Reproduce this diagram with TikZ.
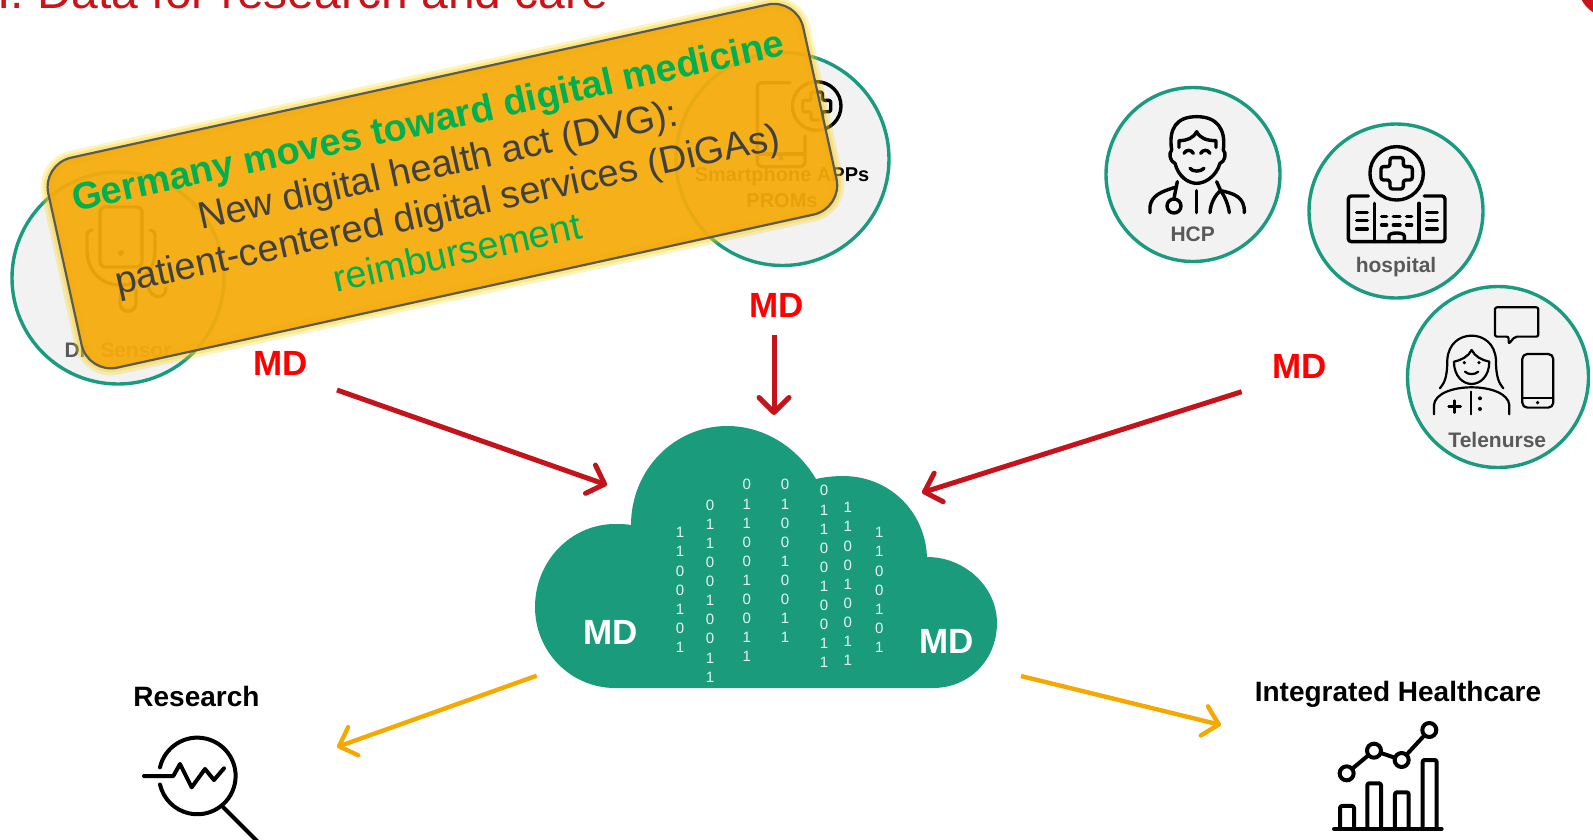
\documentclass[tikz,border=0pt]{standalone}
\usepackage{fontspec}
\setmainfont{Liberation Sans}
\usepackage{tikz}
\usetikzlibrary{arrows.meta,positioning}

\definecolor{ringgreen}{HTML}{1A9B80}
\definecolor{cloudgreen}{HTML}{1A9C7C}
\definecolor{ringfill}{HTML}{F2F2F2}
\definecolor{arrowred}{HTML}{C4131A}
\definecolor{titlered}{HTML}{C8141A}
\definecolor{arroworange}{HTML}{F5A800}
\definecolor{bannerorange}{HTML}{F5AB0C}
\definecolor{bannergreen}{HTML}{00B050}
\definecolor{bannertext}{HTML}{404040}
\definecolor{labelgray}{HTML}{595959}

\tikzset{
  ring/.style={circle,draw=ringgreen,fill=ringfill,line width=3.4pt,inner sep=0pt},
  ringlabel/.style={anchor=base,inner sep=0pt,text=labelgray,font=\bfseries\fontsize{21}{26}\selectfont},
  mdred/.style={inner sep=0pt,text=red,font=\bfseries\fontsize{35}{40}\selectfont},
  mdwhite/.style={inner sep=0pt,text=white,font=\bfseries\fontsize{35}{40}\selectfont},
  bitcol/.style={anchor=north,inner sep=0pt,align=center,text=white!90!cloudgreen,font=\fontsize{15}{19.1}\selectfont},
  outcome/.style={anchor=base,inner sep=0pt,text=black,font=\bfseries\fontsize{28}{32}\selectfont},
  redarrow/.style={->,draw=arrowred,line width=5pt},
  orangearrow/.style={->,draw=arroworange,line width=4.4pt},
  icon/.style={draw=black,line width=3.4pt,line cap=round,line join=round},
  thinicon/.style={draw=black,line width=2.2pt,line cap=round,line join=round},
  banner/.style={rectangle,rounded corners=30pt,draw=labelgray,line width=2.2pt,fill=bannerorange,
    fill opacity=.94,text opacity=1,minimum width=773pt,minimum height=215pt,inner sep=0pt,
    align=center,rotate=12.4,text=bannertext,font=\fontsize{38}{45}\selectfont,
    preaction={draw=yellow!70!orange,line width=14pt,draw opacity=.25,fill opacity=0},
    preaction={draw=yellow!70!orange,line width=8pt,draw opacity=.35,fill opacity=0}},
}

\begin{document}
\begin{tikzpicture}[x=1pt,y=-1pt,>={Straight Barb[length=15pt,width=30pt,round]}]
\useasboundingbox (0,0) rectangle (1593,839);

\node[anchor=base west,inner sep=0pt,text=titlered,font=\fontsize{48}{54}\selectfont] (title) at (-3,8) {I. Data for research and care};
\node[circle,fill=titlered,minimum size=64pt,inner sep=0pt] (cornerdot) at (1610,-15) {};

% sources
\node[ring,minimum size=212pt] (sensor) at (118,278) {};
\node[ring,minimum size=213pt] (apps)   at (782.5,159) {};
\node[ring,minimum size=174pt] (hcp)    at (1193,174.5) {};
\node[ring,minimum size=174pt] (hospital) at (1396,211) {};
\node[ring,minimum size=181pt] (nurse)  at (1498,377) {};

\node[ringlabel] (sensorlabel) at (118,357) {Dr. Sensor};
\node[ringlabel,text=black,align=center,font=\bfseries\fontsize{20}{26}\selectfont] (appslabel) at (782,207) {Smartphone APPs\\PROMs};
\node[ringlabel] (hcplabel) at (1192.7,241.7) {HCP};
\node[ringlabel] (hospitallabel) at (1396,272) {hospital};
\node[ringlabel] (nurselabel) at (1497.3,447.7) {Telenurse};

% sensor icon
\draw[icon] (100,212) .. controls (100,209) and (102,207) .. (105,207) -- (137,207) .. controls (140,207) and (142,209) .. (142,212)
  -- (142,262) .. controls (142,265) and (140,267) .. (137,267) -- (105,267) .. controls (102,267) and (100,265) .. (100,262) -- cycle;
\fill (121,253) circle (3pt);
\draw[icon] (92,230) .. controls (89,230) and (87,232) .. (87,236) -- (87,250) .. controls (87,270) and (100,285) .. (121,285)
  .. controls (142,285) and (155,270) .. (155,250) -- (155,236) .. controls (155,232) and (153,230) .. (150,230);
\draw[icon] (122,285) -- (120,303) .. controls (120,314) and (136,314) .. (136,303) -- (136,290);
\draw[icon] (148,285) .. controls (150,300) and (166,300) .. (166,288);

% phone icon
\draw[icon] (790,82.7) -- (762,82.7) .. controls (759,82.7) and (757.3,84.5) .. (757.3,87) -- (757.3,162)
  .. controls (757.3,165) and (759,166.7) .. (762,166.7) -- (800,166.7) .. controls (803,166.7) and (805,165) .. (805,162) -- (805,136);
\draw[icon] (757.3,154) -- (805,154);
\fill (781,158.3) circle (2.4pt);
\draw[icon] (816.7,106) circle (24.3pt);
\draw[icon,rounded corners=2pt] (811,92) -- (822.4,92) -- (822.4,100.3) -- (830.7,100.3) -- (830.7,111.7) -- (822.4,111.7) -- (822.4,120)
  -- (811,120) -- (811,111.7) -- (802.7,111.7) -- (802.7,100.3) -- (811,100.3) -- cycle;

% icons in the right rings
\begin{scope}[shift={(1090,70)},x=.3333pt,y=-.3333pt]
% doctor
\draw[icon] (245,240) .. controls (235,175) and (260,140) .. (320,140) .. controls (380,140) and (408,175) .. (400,240)
  .. controls (410,250) and (405,275) .. (390,280) .. controls (378,320) and (345,340) .. (320,340)
  .. controls (295,340) and (265,320) .. (255,280) .. controls (240,275) and (235,250) .. (245,240);
\draw[icon] (267,232) -- (267,212) .. controls (290,212) and (310,205) .. (320,185) .. controls (330,205) and (350,212) .. (378,212) -- (378,232);
\draw[icon] (282,250) .. controls (288,238) and (304,238) .. (310,250);
\draw[icon] (332,250) .. controls (338,238) and (354,238) .. (360,250);
\draw[icon] (300,295) .. controls (308,306) and (332,306) .. (342,295);
\draw[icon] (180,428) -- (180,410) .. controls (185,375) and (215,365) .. (255,352);
\draw[icon] (262,335) -- (252,385);
\draw[icon] (252,408) circle (7pt);
\draw[icon] (380,335) -- (392,362) .. controls (430,370) and (465,380) .. (463,428);
\draw[icon] (392,362) .. controls (375,375) and (362,400) .. (360,428);
\draw[icon] (392,362) .. controls (405,380) and (415,405) .. (418,428);
\draw[icon] (320,362) -- (320,428);
% hospital
\draw[icon] (920,310) circle (26.7pt);
\draw[icon,rounded corners=2.5pt] (900,263) -- (940,263) -- (940,290) -- (967,290) -- (967,330) -- (940,330) -- (940,357) -- (900,357)
  -- (900,330) -- (873,330) -- (873,290) -- (900,290) -- cycle;
\draw[icon,rounded corners=3pt] (835,378) -- (775,378) -- (775,515) -- (1065,515) -- (1065,378) -- (1003,378);
\draw[icon] (853,400) -- (853,515) (987,400) -- (987,515);
\foreach \winy in {428,452,477} {
  \draw[icon] (800,\winy) -- (832,\winy) (1010,\winy) -- (1042,\winy);
}
\foreach \winy in {440,465} {
  \draw[icon] (875,\winy) -- (890,\winy) (910,\winy) -- (930,\winy) (950,\winy) -- (965,\winy);
}
\draw[icon] (897,515) -- (897,498) .. controls (897,486) and (943,486) .. (943,498) -- (943,515);
% telenurse
\draw[thinicon,rounded corners=2pt] (1215,712) -- (1345,712) -- (1345,800) -- (1275,800) -- (1256,822) -- (1256,800) -- (1215,800) -- cycle;
\draw[thinicon,rounded corners=5pt] (1297,852) -- (1390,852) -- (1390,1013) -- (1297,1013) -- cycle;
\draw[thinicon] (1297,985) -- (1390,985);
\fill (1343,998) circle (1.8pt);
\draw[thinicon] (1050,955) .. controls (1062,940) and (1072,925) .. (1072,870) .. controls (1075,820) and (1110,797) .. (1145,797)
  .. controls (1180,797) and (1215,820) .. (1218,870) .. controls (1218,925) and (1228,940) .. (1240,955);
\draw[thinicon] (1092,875) .. controls (1092,920) and (1120,942) .. (1145,942) .. controls (1170,942) and (1198,920) .. (1198,875)
  .. controls (1175,870) and (1155,860) .. (1145,840) .. controls (1135,860) and (1115,870) .. (1092,875);
\fill (1123,878) circle (1.8pt) (1167,878) circle (1.8pt);
\draw[thinicon] (1125,905) .. controls (1135,915) and (1155,915) .. (1165,905);
\draw[thinicon] (1032,1033) -- (1032,1005) .. controls (1035,970) and (1090,952) .. (1145,952) .. controls (1200,952) and (1255,970) .. (1258,1005) -- (1258,1033);
\draw[thinicon] (1143,965) -- (1143,1033);
\draw[icon,line width=2.6pt] (1076,1010) -- (1112,1010) (1094,992) -- (1094,1028);
\fill (1170,985) circle (2pt) (1170,1017) circle (2pt);
\end{scope}

\node[banner] (dvgbanner) at (442.4,186.1) {\textcolor{bannergreen}{\bfseries Germany moves toward digital medicine}\\New digital health act (DVG):\\patient-centered digital services (DiGAs)\\\textcolor{bannergreen}{reimbursement}};

% cloud
\fill[cloudgreen] (615,688) -- (933,688) .. controls (969,688) and (997,660) .. (997,623) .. controls (997,587) and (965,557) .. (927,557)
  .. controls (925,510) and (888,476) .. (843,476) .. controls (834,476) and (825,477) .. (816,479)
  .. controls (797,447) and (764,426) .. (727,426) .. controls (674,426) and (631,470) .. (631,525)
  .. controls (626,524) and (620,524) .. (615,524) .. controls (571,524) and (535,561) .. (535,607)
  .. controls (535,652) and (571,688) .. (615,688) -- cycle;
\foreach \bitx/\bity/\bits [count=\c] in {
  680/527.3/{1\\1\\0\\0\\1\\0\\1},
  710/499.6/{0\\1\\1\\0\\0\\1\\0\\0\\1\\1},
  746.7/479.3/{0\\1\\1\\0\\0\\1\\0\\0\\1\\1},
  785/479.3/{0\\1\\0\\0\\1\\0\\0\\1\\1},
  824/485.3/{0\\1\\1\\0\\0\\1\\0\\0\\1\\1},
  847.7/502.3/{1\\1\\0\\0\\1\\0\\0\\1\\1},
  879.3/527.3/{1\\1\\0\\0\\1\\0\\1}} {
  \node[bitcol] (bits\c) at (\bitx,\bity) {\bits};
}
\node[mdwhite] (mdcloudl) at (610.7,632.7) {MD};
\node[mdwhite] (mdcloudr) at (946.7,641.7) {MD};

\node[mdred] (mdsensor) at (281,363) {MD};
\node[mdred] (mdapps)   at (777,305) {MD};
\node[mdred] (mdcare)   at (1300,366.7) {MD};

\coordinate (sensorout) at (337,390);
\coordinate (appsout)   at (774,335);
\coordinate (careout)   at (1241.7,391.7);
\coordinate (cloudw)    at (607,485);
\coordinate (cloudn)    at (774,415);
\coordinate (cloude)    at (922,492.7);
\coordinate (cloudsw)   at (536.7,675.7);
\coordinate (cloudse)   at (1021,676);
\coordinate (researchin) at (337,747);
\coordinate (healthin)  at (1221,725);

\path (sensorout) edge[redarrow] (cloudw)
      (appsout)   edge[redarrow] (cloudn)
      (careout)   edge[redarrow] (cloude);
\path (cloudsw)   edge[orangearrow] (researchin)
      (cloudse)   edge[orangearrow] (healthin);

% outcomes
\node[outcome] (research) at (196.5,706.7) {Research};
\node[outcome] (healthcare) at (1398,701.7) {Integrated Healthcare};

\begin{scope}[shift={(100,660)},x=.3333pt,y=-.3333pt]
\draw[icon,line width=4pt] (180,322) arc[start angle=167,end angle=-167,radius=38.3pt];
\draw[icon,line width=4pt] (132,348) -- (220,348) -- (240,312) -- (275,382) -- (315,327) -- (342,360) -- (372,325);
\draw[icon,line width=4pt] (370,442) -- (480,552);
\end{scope}

\begin{scope}[shift={(1230,660)},x=.3333pt,y=-.3333pt]
\draw[icon,line width=4pt] (312,507) -- (635,507);
\draw[icon,line width=4pt,rounded corners=2pt] (330,507) -- (330,438) -- (372,438) -- (372,507);
\draw[icon,line width=4pt,rounded corners=2pt] (412,507) -- (412,370) -- (453,370) -- (453,507);
\draw[icon,line width=4pt,rounded corners=2pt] (495,507) -- (495,397) -- (536,397) -- (536,507);
\draw[icon,line width=4pt,rounded corners=2pt] (578,507) -- (578,300) -- (620,300) -- (620,507);
\draw[icon,line width=4pt] (350,340) -- (432,272) -- (515,300) -- (598,210);
\foreach \ptx/\pty in {350/340,432/272,515/300,598/210} {
  \draw[icon,line width=4pt,fill=white] (\ptx,\pty) circle (7pt);
}
\end{scope}

\end{tikzpicture}
\end{document}
